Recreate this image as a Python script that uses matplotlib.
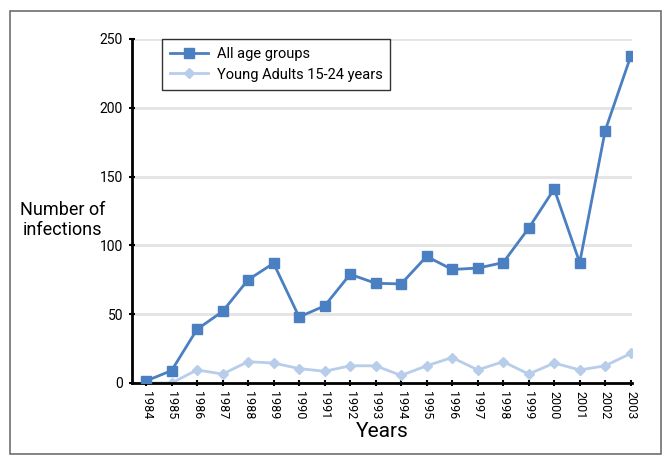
import matplotlib
matplotlib.use('Agg')
import matplotlib.pyplot as plt
from matplotlib.patches import FancyBboxPatch

years = list(range(1984, 2004))
all_ages = [1.5, 9, 39, 52, 75, 87, 48, 56, 79, 72.5, 72, 92, 82.5, 83.5, 87.5,
            112.5, 141, 87.5, 183.5, 237.5]
young_adults = [0, 0, 9.5, 6.5, 15.5, 14.5, 10.5, 8.5, 12.5, 12.5, 5.5, 12.5, 18.5,
                9.5, 15.5, 6.5, 14.5, 9.5, 12.5, 21.5]
yticks = [0, 50, 100, 150, 200, 250]

plt.rcParams['font.family'] = ['Roboto', 'DejaVu Sans']

fig = plt.figure(figsize=(6.71, 4.66), dpi=100)

# grey frame round the whole figure
frame = FancyBboxPatch((10 / 671, 12 / 466), 651 / 671, 443 / 466,
                       boxstyle='square,pad=0', transform=fig.transFigure,
                       facecolor='none', edgecolor='#6e6e6e', linewidth=1.2)
fig.patches.append(frame)

ax = fig.add_axes([132 / 671, 83 / 466, 500 / 671, 344 / 466])

ax.plot(years, all_ages, color='#4a7fc1', marker='s', markersize=6.5,
        linewidth=2, label='All age groups', zorder=3)
ax.plot(years, young_adults, color='#b7cdea', marker='D', markersize=5.5,
        linewidth=2, label='Young Adults 15-24 years', zorder=2)

ax.set_xlim(1983.45, 2003.05)
ax.set_ylim(0, 250)
ax.set_yticks(yticks)
ax.set_xticks(years)
ax.set_xticklabels([str(y) for y in years], rotation=270, fontsize=9)
ax.tick_params(axis='y', labelsize=10, direction='inout', length=5, width=1.5, pad=4)
ax.tick_params(axis='x', direction='inout', length=5, width=1.5, pad=3)

ax.yaxis.grid(True, color='#e4e4e4', linewidth=2)
ax.set_axisbelow(True)
for side in ['top', 'right']:
    ax.spines[side].set_visible(False)
ax.spines['left'].set_linewidth(2)
ax.spines['bottom'].set_linewidth(2)

ax.set_xlabel('Years', fontsize=15, labelpad=2)
fig.text(63 / 671, 1 - 220 / 466, 'Number of\ninfections', fontsize=13,
         ha='center', va='center', linespacing=1.1)

leg = ax.legend(loc='upper left', bbox_to_anchor=(0.06, 1.0), fontsize=10.5,
                frameon=True, fancybox=False, edgecolor='black',
                handlelength=2.6, borderpad=0.55, labelspacing=0.45,
                borderaxespad=0, handletextpad=0.6)
leg.get_frame().set_linewidth(1)

fig.savefig('out.png', dpi=100)
